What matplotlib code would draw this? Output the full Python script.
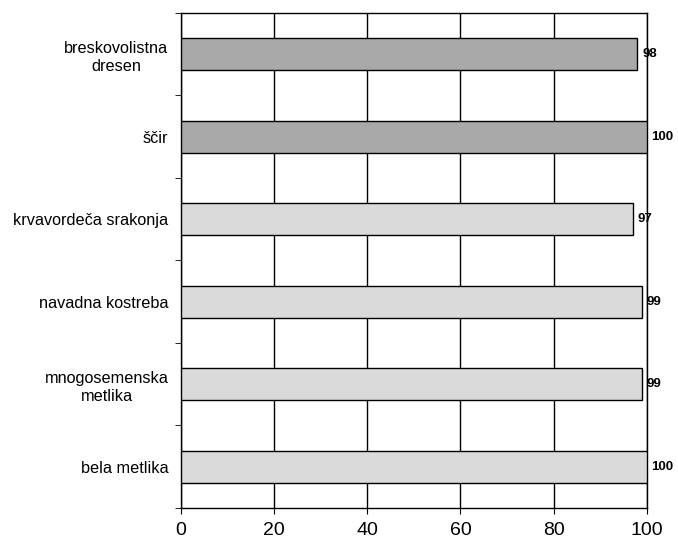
import numpy as np
from matplotlib import pyplot as plt

plt.rcParams['font.family'] = ['Liberation Sans', 'DejaVu Sans']

categories = ['breskovolistna\ndresen', 'ščir', 'krvavordeča srakonja',
              'navadna kostreba', 'mnogosemenska\nmetlika', 'bela metlika']
values = [98, 100, 97, 99, 99, 100]
colors = ['#a9a9a9', '#a9a9a9', '#dadada', '#dadada', '#dadada', '#dadada']
xticks = [0, 20, 40, 60, 80, 100]

fig = plt.figure(figsize=(6.78, 5.42), dpi=100)
ax = fig.add_axes([0.267, 0.063, 0.687, 0.913])
pos = np.arange(len(categories))[::-1]
ax.barh(pos, values, height=0.39, color=colors, edgecolor='black', linewidth=1.0, zorder=3)
for p, v in zip(pos, values):
    ax.text(v + 1.0, p, str(v), va='center', ha='left', fontsize=9.5, fontweight='bold')

ax.set_xlim(0, 100)
ax.set_ylim(-0.5, len(categories) - 0.5)
ax.set_xticks(xticks)
ax.set_xticklabels([str(t) for t in xticks], fontsize=14)
ax.set_yticks(pos)
ax.set_yticklabels(categories, fontsize=11.7, multialignment='center', linespacing=1.3)
ax.tick_params(axis='y', length=0, pad=9)
ax.set_yticks(np.arange(-0.5, len(categories)), minor=True)
ax.tick_params(axis='y', which='minor', length=4, direction='out')
ax.tick_params(axis='x', length=4, direction='out', pad=6)
ax.grid(axis='x', color='black', linewidth=1.0, zorder=0)
for s in ax.spines.values():
    s.set_linewidth(1.0)

plt.savefig('out.png')
